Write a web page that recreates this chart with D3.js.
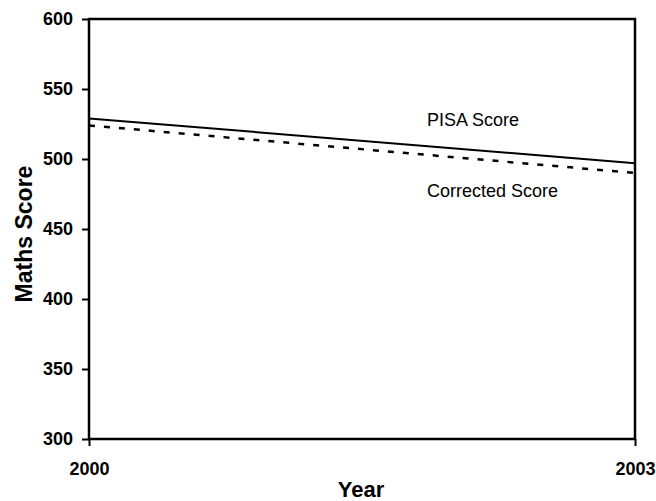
<!DOCTYPE html>
<html>
<head>
<meta charset="utf-8">
<script src="https://cdn.jsdelivr.net/npm/d3@7"></script>
<style>
body { margin: 0; background: #fff; }
text { font-family: "Liberation Sans", Arial, sans-serif; }
</style>
</head>
<body>
<svg></svg>
<script>
var width = 656;
var height = 501;

var years = [2000, 2003];
var pisaScore = [529, 497];
var correctedScore = [524, 490];
var yTicks = [300, 350, 400, 450, 500, 550, 600];

var margin = {left: 89, right: 21, top: 19, bottom: 62};

var svg = d3.select('svg')
		.attr('width', width)
		.attr('height', height);

var x = d3.scaleLinear()
		.domain([2000, 2003])
		.range([margin.left, width - margin.right]);

var y = d3.scaleLinear()
		.domain([300, 600])
		.range([height - margin.bottom, margin.top]);

// frame
svg.append('rect')
		.attr('x', x(2000))
		.attr('y', y(600))
		.attr('width', x(2003) - x(2000))
		.attr('height', y(300) - y(600))
		.style('fill', 'none')
		.style('stroke', '#000')
		.style('stroke-width', 2.5);

function styleAxis(g){
	g.select('.domain').remove();
	g.selectAll('line').style('stroke', '#000').style('stroke-width', 2);
	g.selectAll('text')
		.style('font-family', '"Liberation Sans", Arial, sans-serif')
		.style('font-size', '18px')
		.style('font-weight', 'bold')
		.style('fill', '#000');
}

// y axis
var yAxis = d3.axisLeft(y)
		.tickValues(yTicks)
		.tickSize(7)
		.tickPadding(9);

svg.append('g')
		.attr('transform', 'translate(' + x(2000) + ',0)')
		.call(yAxis)
		.call(styleAxis);

// x axis
var xAxis = d3.axisBottom(x)
		.tickValues(years)
		.tickFormat(d3.format('d'))
		.tickSize(7)
		.tickPadding(16);

svg.append('g')
		.attr('transform', 'translate(0,' + y(300) + ')')
		.call(xAxis)
		.call(styleAxis);

var line = d3.line()
		.x(function(d, i){ return x(years[i]); })
		.y(function(d){ return y(d); });

svg.append('path')
		.datum(pisaScore)
		.attr('d', line)
		.style('fill', 'none')
		.style('stroke', '#000')
		.style('stroke-width', 2);

svg.append('path')
		.datum(correctedScore)
		.attr('d', line)
		.style('fill', 'none')
		.style('stroke', '#000')
		.style('stroke-width', 2.5)
		.style('stroke-dasharray', '6,9');

// series labels
svg.append('text')
		.attr('x', 427)
		.attr('y', 126)
		.style('font-size', '18px')
		.text('PISA Score');

svg.append('text')
		.attr('x', 427)
		.attr('y', 197)
		.style('font-size', '18px')
		.text('Corrected Score');

// axis titles
svg.append('text')
		.attr('x', 361)
		.attr('y', 497)
		.attr('text-anchor', 'middle')
		.style('font-size', '22px')
		.style('font-weight', 'bold')
		.text('Year');

svg.append('text')
		.attr('transform', 'translate(32,234) rotate(-90)')
		.attr('text-anchor', 'middle')
		.style('font-size', '23px')
		.style('font-weight', 'bold')
		.text('Maths Score');
</script>
</body>
</html>
